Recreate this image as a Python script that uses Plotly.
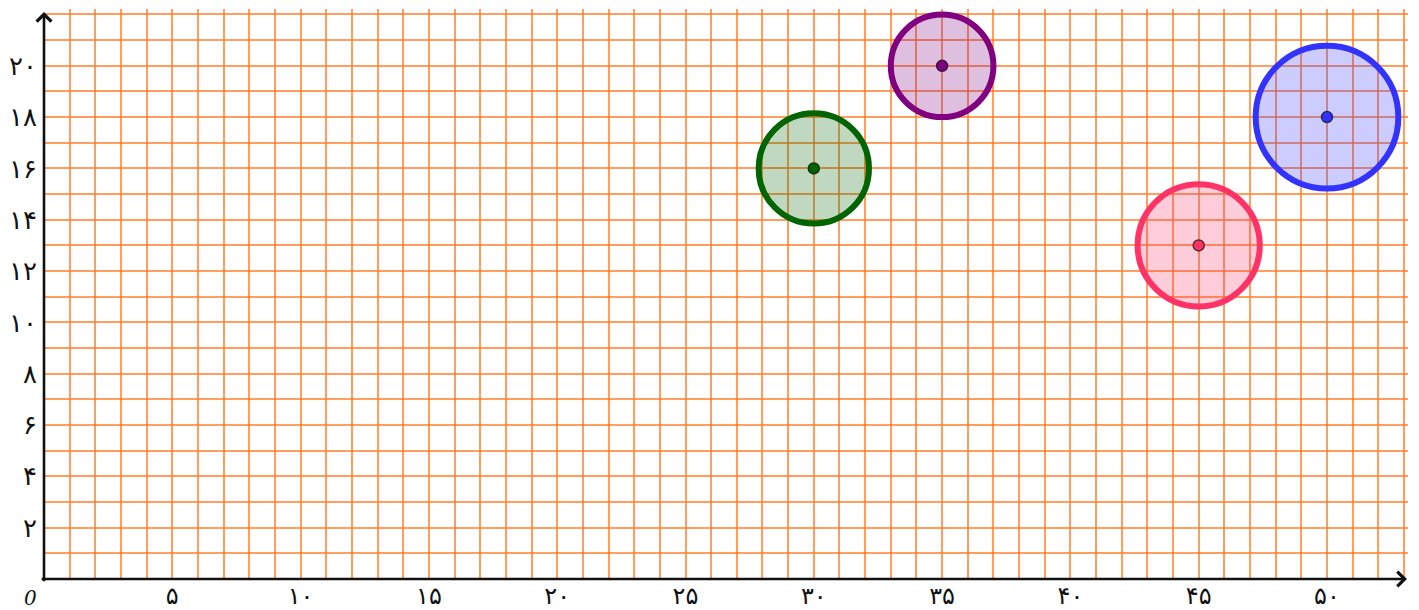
import plotly.graph_objects as go

# ---- data ----
circle_names = ["green", "purple", "pink", "blue"]
circle_x = [30, 35, 45, 50]
circle_y = [16, 20, 13, 18]
circle_r = [2.15, 2.0, 2.38, 2.78]
circle_line = ["#006400", "#800080", "#FF3366", "#3333FF"]
circle_fill = ["rgba(0,100,0,0.25)", "rgba(128,0,128,0.25)",
               "rgba(255,51,102,0.25)", "rgba(51,51,255,0.25)"]

x_grid = list(range(1, 54))
y_grid = list(range(1, 23))
fa_digits = "۰۱۲۳۴۵۶۷۸۹"


def fa(n):
    return "".join(fa_digits[int(c)] for c in str(n))


x_ticktext = [fa(v) if v % 5 == 0 else "" for v in x_grid]
y_ticktext = [fa(v) if v % 2 == 0 and v <= 20 else "" for v in y_grid]

# ---- geometry (page body has an 8px margin) ----
W, H = 1411, 602
ml, mr, mt, mb = 36, 11, 1, 31
px_per_unit = 25.66
pw = W - ml - mr
ph = H - mt - mb
x_max = pw / px_per_unit
y_max = ph / px_per_unit

grid_color = "rgba(255,120,30,0.72)"

fig = go.Figure()

shapes = []
for cx, cy, r, lc, fc in zip(circle_x, circle_y, circle_r, circle_line, circle_fill):
    shapes.append(dict(type="circle", xref="x", yref="y",
                       x0=cx - r, x1=cx + r, y0=cy - r, y1=cy + r,
                       line=dict(color=lc, width=6), fillcolor=fc, layer="above"))

fig.add_trace(go.Scatter(
    x=circle_x, y=circle_y, mode="markers",
    marker=dict(size=11, color=circle_line, line=dict(color="#222222", width=1.5)),
    hoverinfo="skip", showlegend=False, cliponaxis=False))

annotations = [
    # y axis with arrow
    dict(x=0, y=(ph - 3) / px_per_unit, ax=0, ay=-0.15, xref="x", yref="y",
         axref="x", ayref="y", showarrow=True, arrowhead=4, arrowsize=1.1,
         arrowwidth=2.6, arrowcolor="#111111", text=""),
    # x axis with arrow
    dict(x=(pw - 1) / px_per_unit, y=0, ax=-0.15, ay=0, xref="x", yref="y",
         axref="x", ayref="y", showarrow=True, arrowhead=4, arrowsize=1.1,
         arrowwidth=2.6, arrowcolor="#111111", text=""),
    dict(x=-14 / pw, y=-19 / ph, xref="paper", yref="paper",
         xanchor="center", yanchor="middle",
         text="<i>0</i>", showarrow=False,
         font=dict(family="DejaVu Serif", size=20, color="#111111")),
]

fig.update_layout(
    width=W, height=H,
    margin=dict(l=ml, r=mr, t=mt, b=mb, autoexpand=False),
    paper_bgcolor="white", plot_bgcolor="white",
    shapes=shapes, annotations=annotations,
    showlegend=False,
    xaxis=dict(range=[0, x_max], tickvals=x_grid, ticktext=x_ticktext,
               showgrid=True, gridcolor=grid_color, gridwidth=2,
               zeroline=False, showline=False, ticks="", automargin=False,
               ticklabelstandoff=0,
               tickfont=dict(family="DejaVu Sans", size=24, color="#111111"),
               fixedrange=True),
    yaxis=dict(range=[0, y_max], tickvals=y_grid, ticktext=y_ticktext,
               showgrid=True, gridcolor=grid_color, gridwidth=2,
               zeroline=False, showline=False, ticks="", automargin=False,
               ticklabelstandoff=6,
               tickfont=dict(family="DejaVu Sans", size=26, color="#111111"),
               fixedrange=True),
)

fig.write_html("out.html")
